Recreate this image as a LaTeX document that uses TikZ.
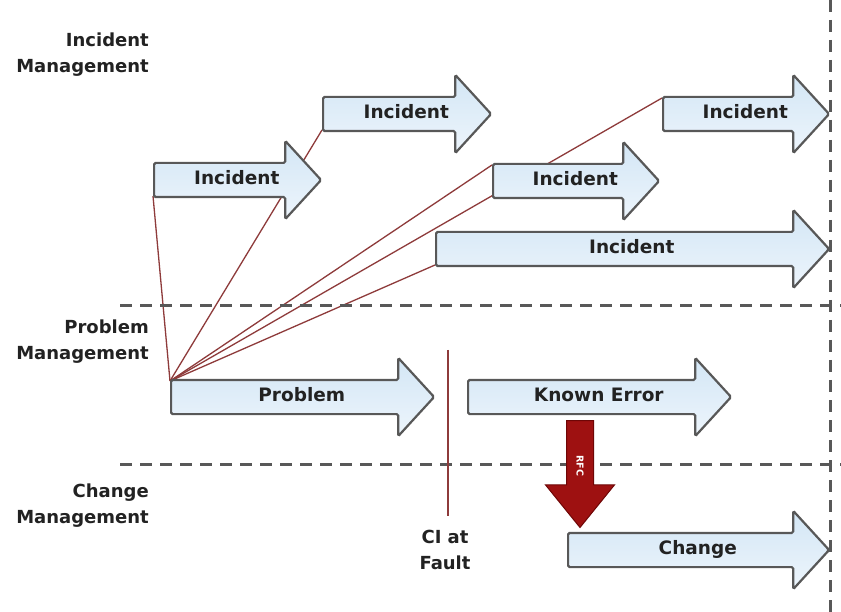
\documentclass[tikz,border=0pt]{standalone}
\usepackage{fontspec}
\setmainfont{DejaVu Sans}
\usetikzlibrary{shapes.arrows, positioning, backgrounds}
\definecolor{cshafttop}{HTML}{D3E6F5}
\definecolor{cshaftbot}{HTML}{EDF5FC}
\definecolor{cedge}{HTML}{585858}
\definecolor{clink}{HTML}{8E3B3B}
\definecolor{crfc}{HTML}{9E1111}
\definecolor{crfcedge}{HTML}{6E0606}
\definecolor{ctext}{HTML}{222222}

\begin{document}
\begin{tikzpicture}[
  x=1pt, y=-1pt,
  flow/.style={single arrow, anchor=tail, draw=cedge, line width=2.2pt,
               top color=cshafttop, bottom color=cshaftbot,
               single arrow head extend=22pt, single arrow tip angle=95,
               text height=13pt, text depth=3.5pt, inner ysep=7.75pt,
               inner xsep=2pt, rounded corners=1.5pt, text=ctext,
               execute at begin node={\hspace*{14pt}},
               font=\bfseries\fontsize{18.5}{22}\selectfont},
  rfc/.style={single arrow, anchor=tail, draw=crfcedge, line width=1pt,
              fill=crfc, single arrow head extend=21pt,
              single arrow tip angle=78, text height=7pt, text depth=0pt,
              inner ysep=9.5pt, minimum height=107pt, rotate=-90,
              text=white, font=\bfseries\fontsize{9.5}{9.5}\selectfont},
  lane/.style={anchor=north east, align=right, inner sep=0pt, text=ctext,
               font=\bfseries\fontsize{18}{26}\selectfont},
  sep/.style={draw=cedge, line width=3pt, dash pattern=on 12pt off 8pt},
  link/.style={draw=clink, line width=1.3pt},
  fault/.style={draw=clink, line width=2pt}
]
\useasboundingbox (0,0) rectangle (841,612);

% Lane labels
\node[lane] (lincident) at (149,33)  {Incident\\Management};
\node[lane] (lproblem)  at (149,320) {Problem\\Management};
\node[lane] (lchange)   at (149,484) {Change\\Management};

% Lane separators
\coordinate (sepa) at (120,306);
\coordinate (sepb) at (120,464);
\coordinate (septop) at (830,0);
\draw[sep] (sepa) -- (841,306);
\draw[sep] (sepb) -- (841,464);
\draw[sep] (septop) -- (830,612);

% Incidents
\node[flow, minimum height=167pt] (inca) at (153,180) {Incident};
\node[flow, minimum height=168pt] (incb) at (322,114) {Incident};
\node[flow, minimum height=166pt] (incc) at (662,114) {Incident};
\node[flow, minimum height=166pt] (incd) at (492,181) {Incident};
\node[flow, minimum height=393pt] (ince) at (435,249) {Incident};

% Problem and known error
\node[flow, minimum height=263pt] (problem)  at (170,397) {Problem};
\node[flow, minimum height=263pt] (knownerr) at (467,397) {Known Error};

% Change
\node[flow, minimum height=261pt] (change) at (567,550) {Change};
\node[rfc] (rfcarrow) at (580,420) {RFC};

% CI at fault
\node[lane, anchor=north, align=center] (cifault) at (445,530) {CI at\\Fault};
\coordinate (citop) at (448,350);
\draw[fault] (citop) -- ([yshift=14pt]citop |- cifault.north);

\begin{scope}[on background layer]
\fill[white] (0,0) rectangle (841,612);
\coordinate (ptl) at ([yshift=16pt]problem.tail);
\draw[link] (ptl) -- ([yshift=-16pt]inca.tail);
\draw[link] (ptl) -- ([yshift=-16pt]incb.tail);
\draw[link] (ptl) -- ([yshift=16pt]incc.tail);
\draw[link] (ptl) -- ([yshift=16pt]incd.tail);
\draw[link] (ptl) -- ([yshift=-16pt]ince.tail);
\end{scope}
\end{tikzpicture}
\end{document}
